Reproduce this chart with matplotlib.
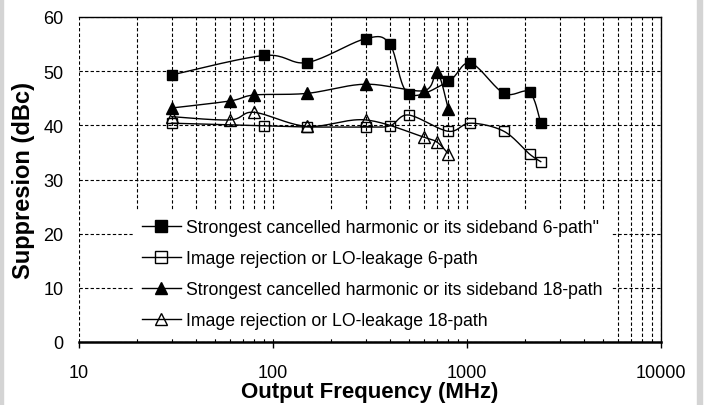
import matplotlib
matplotlib.use("Agg")
import matplotlib.pyplot as plt
from matplotlib.lines import Line2D
from matplotlib.patches import Rectangle
import numpy as np

plt.rcParams['font.family'] = ['Liberation Sans', 'DejaVu Sans']

# frequencies (MHz) and suppression (dBc)
freq_6 = [30, 90, 150, 300, 400, 500, 800, 1040, 1550, 2100, 2400]
harm_6 = [49.3, 52.9, 51.6, 56.0, 55.0, 45.8, 48.1, 51.5, 45.9, 46.1, 40.4]
image_6 = [40.4, 39.9, 39.7, 39.7, 39.9, 41.9, 38.9, 40.4, 38.9, 34.7, 33.3]

freq_18 = [30, 60, 80, 150, 300, 600, 700, 800]
harm_18 = [43.2, 44.5, 45.6, 45.9, 47.6, 46.4, 49.9, 43.1]
image_18 = [41.6, 41.0, 42.4, 39.8, 41.0, 37.8, 36.9, 34.8]

labels = ['Strongest cancelled harmonic or its sideband 6-path"',
          'Image rejection or LO-leakage 6-path',
          'Strongest cancelled harmonic or its sideband 18-path',
          'Image rejection or LO-leakage 18-path']
x_ticks = [10, 100, 1000, 10000]
y_ticks = [0, 10, 20, 30, 40, 50, 60]


def smooth(xs, ys, n=20):
    # Catmull-Rom through the points, in roughly screen-scaled (log x, y) space
    u = np.log10(xs) * 194.0
    v = np.asarray(ys, dtype=float) * 5.42
    p = np.column_stack([u, v])
    p = np.vstack([p[0], p, p[-1]])
    out = []
    for i in range(1, len(p) - 2):
        p0, p1, p2, p3 = p[i - 1], p[i], p[i + 1], p[i + 2]
        t = np.linspace(0, 1, n, endpoint=False)[:, None]
        seg = 0.5 * ((2 * p1) + (-p0 + p2) * t + (2 * p0 - 5 * p1 + 4 * p2 - p3) * t ** 2
                     + (-p0 + 3 * p1 - 3 * p2 + p3) * t ** 3)
        out.append(seg)
    out.append(p[-2][None, :])
    out = np.vstack(out)
    return 10 ** (out[:, 0] / 194.0), out[:, 1] / 5.42


fig = plt.figure(figsize=(7.07, 4.06), dpi=100)
ax = fig.add_axes([79 / 707, 63 / 406, 582 / 707, 325 / 406])

# x, y, marker, face colour, marker size in plot, marker size in legend
series = [
    (freq_6, harm_6, 's', 'black', 7, 8),
    (freq_6, image_6, 's', 'none', 7, 8),
    (freq_18, harm_18, '^', 'black', 8.5, 8.5),
    (freq_18, image_18, '^', 'none', 8.5, 8.5),
]
handles = []
for (xs, ys, mk, fc, ms, lms), lab in zip(series, labels):
    sx, sy = smooth(xs, ys)
    ax.plot(sx, sy, color='black', lw=1.0, zorder=3)
    ax.plot(xs, ys, ls='none', marker=mk, markersize=ms, markerfacecolor=fc,
            markeredgecolor='black', markeredgewidth=1.0, zorder=4)
    handles.append(Line2D([], [], color='black', lw=1.0, marker=mk, markersize=lms,
                          markerfacecolor=fc, markeredgecolor='black', label=lab))

ax.set_xscale('log')
ax.set_xlim(10, 10000)
ax.set_ylim(0, 60)
ax.set_xticks(x_ticks)
ax.set_xticklabels([str(t) for t in x_ticks])
ax.set_yticks(y_ticks)
ax.grid(True, which='major', axis='both', color='black', ls=(0, (3, 2)), lw=0.8)
ax.grid(True, which='minor', axis='x', color='black', ls=(0, (3, 2)), lw=0.8)
ax.tick_params(axis='x', which='major', direction='out', length=4, width=1, labelsize=13, pad=12)
ax.tick_params(axis='x', which='minor', length=0)
ax.tick_params(axis='y', length=0, labelsize=13, pad=11)

ax.spines['left'].set_visible(False)
ax.spines['bottom'].set_linewidth(1.8)
ax.spines['top'].set_linewidth(1.0)
ax.spines['right'].set_linewidth(1.0)
for sp in ax.spines.values():
    sp.set_zorder(6)

ax.set_xlabel('Output Frequency (MHz)', fontsize=16, fontweight='bold', labelpad=0)
ax.set_ylabel('Suppresion (dBc)', fontsize=17, fontweight='bold', labelpad=6)

leg = ax.legend(handles=handles, loc='upper left', bbox_to_anchor=(0.093, 0.406),
                frameon=True, fancybox=False, fontsize=12.7, handlelength=2.2,
                handletextpad=0.28, labelspacing=0.80, borderpad=0.5, borderaxespad=0)
leg.get_frame().set_edgecolor('white')
leg.get_frame().set_facecolor('white')
leg.get_frame().set_alpha(1)
leg.set_zorder(5)

# light grey screenshot borders
fig.patches.append(Rectangle((0, 0), 3 / 707, 1, transform=fig.transFigure,
                             color='#d4d4d4', zorder=0))
fig.patches.append(Rectangle((697 / 707, 0), 5 / 707, 1, transform=fig.transFigure,
                             color='#d4d4d4', zorder=0))

fig.savefig('out.png', dpi=100)
